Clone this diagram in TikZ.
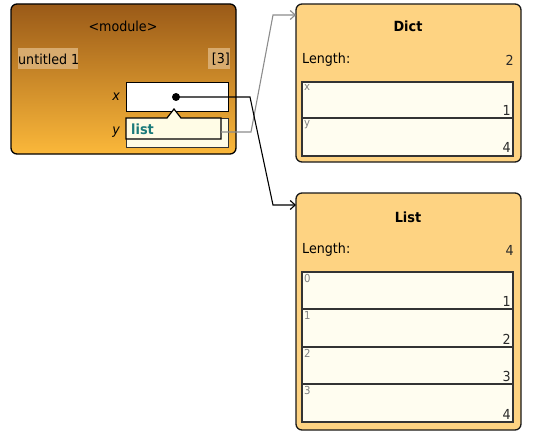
\documentclass[tikz,border=0pt]{standalone}
\usepackage{fontspec}
\setmainfont{DejaVu Sans}[FakeStretch=0.92]
\usetikzlibrary{arrows.meta}
\definecolor{modtop}{HTML}{9A5A18}
\definecolor{modbot}{HTML}{FBB83A}
\definecolor{objfill}{HTML}{FED382}
\definecolor{rowfill}{HTML}{FFFDF0}
\definecolor{tipfill}{HTML}{FFFCE6}
\definecolor{tagbg}{HTML}{D8AB6E}
\definecolor{teal}{HTML}{1A7A7A}
\definecolor{lblgray}{HTML}{808080}
\definecolor{valtext}{HTML}{2A2A2A}
\tikzset{
  objbox/.style={draw=black!90, line width=1.3pt, fill=objfill, rounded corners=6pt},
  rowbox/.style={draw=black!80, line width=1.2pt, fill=rowfill},
  txt/.style={font=\fontsize{13.8}{16}\selectfont, inner sep=0pt},
  val/.style={txt, text=valtext},
  small/.style={font=\fontsize{11}{12}\selectfont, text=lblgray, inner sep=0pt},
  title/.style={font=\fontsize{14}{16}\selectfont\bfseries, inner sep=0pt},
  ref/.style={line width=1.1pt, -{Straight Barb[length=5pt,width=9pt]}},
  gref/.style={ref, draw=gray!90},
}
\begin{document}
\begin{tikzpicture}[x=1pt,y=-1pt]
\useasboundingbox (0,0) rectangle (544,444);
% module frame
\shade[top color=modtop, bottom color=modbot, rounded corners=6pt] (11,4) rectangle (236,154);
\draw[line width=1.3pt, rounded corners=6pt] (11,4) rectangle (236,154);
\node[txt] (modtitle) at (123,26) {<module>};
\fill[tagbg] (18,48) rectangle (78,69);
\node[txt, anchor=west] (untitled) at (18,59) {untitled 1};
\fill[tagbg] (208,48) rectangle (230,69);
\node[txt, anchor=east] (cnt) at (230,59) {[3]};
% slots
\node[txt, anchor=east] (xlbl) at (120,97) {\itshape x};
\node[txt, anchor=east] (ylbl) at (120,132) {\itshape y};
\node[draw=black, line width=1.2pt, fill=white, minimum width=102pt, minimum height=29pt, inner sep=0pt, anchor=north west] (xslot) at (126,82) {};
\node[draw=black!80, line width=1.2pt, fill=tipfill, minimum width=102pt, minimum height=29pt, inner sep=0pt, anchor=north west] (yslot) at (126,118) {};
% tooltip
\filldraw[fill=tipfill, draw=black, line width=1.2pt] (126,118) -- (167,118) -- (174,109) -- (181,118) -- (221,118) -- (221,139) -- (126,139) -- cycle;
\node[txt, font=\fontsize{14}{16}\selectfont\bfseries, text=teal, anchor=west] (listtip) at (131,129) {list};
\coordinate (tipout) at (221,132);
% dot
\node[circle, fill=black, minimum size=8pt, inner sep=0pt] (dot) at (176,97) {};
% Dict object
\draw[objbox] (296,4) rectangle (521,162);
\node[title] (dicttitle) at (408,26) {Dict};
\node[txt, anchor=west] (dlen) at (302,60) {Length:};
\node[val, anchor=east] (dlenv) at (514,60) {2};
\draw[rowbox] (302,82) rectangle (513,118);
\draw[rowbox] (302,118) rectangle (513,156);
\node[small, anchor=north west] (dk1) at (304,84) {x};
\node[val, anchor=south east] (dv1) at (511,116) {1};
\node[small, anchor=north west] (dk2) at (304,120) {y};
\node[val, anchor=south east] (dv2) at (511,153) {4};
\coordinate (dictin) at (296,15);
% List object
\draw[objbox] (296,193) rectangle (521,430);
\node[title] (listtitle) at (408,217) {List};
\node[txt, anchor=west] (llen) at (302,250) {Length:};
\node[val, anchor=east] (llenv) at (514,250) {4};
\foreach \i/\t/\b/\v in {0/272/309/1, 1/309/347/2, 2/347/384/3, 3/384/422/4} {
  \draw[rowbox] (302,\t) rectangle (513,\b);
  \node[small, anchor=north west] (lk\i) at (304,\t+2) {\i};
  \node[val, anchor=south east] (lv\i) at (511,\b-2) {\v};
}
\coordinate (listin) at (296,205);
% connectors
\coordinate (g1) at (251,132);
\coordinate (g2) at (273,15);
\draw[gref] (tipout) -- (g1) -- (g2) -- (dictin);
\coordinate (b1) at (250,97);
\coordinate (b2) at (273,205);
\draw[ref] (dot.center) -- (b1) -- (b2) -- (listin);
\end{tikzpicture}
\end{document}
